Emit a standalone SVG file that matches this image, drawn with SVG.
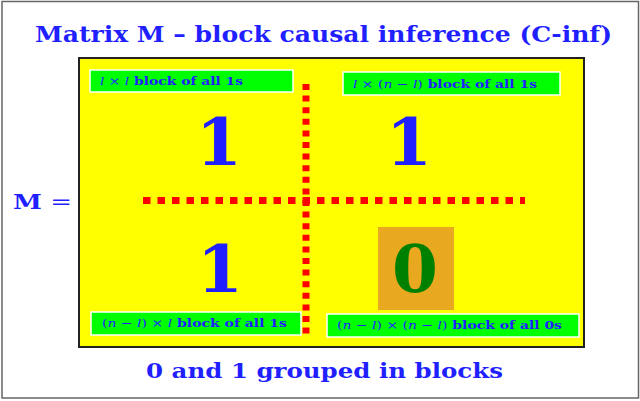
<svg xmlns="http://www.w3.org/2000/svg" width="640" height="401" viewBox="0 0 640 401">
<style>
.t{font-family:"DejaVu Serif","Liberation Serif",serif;font-weight:bold;fill:#1f1fff}
.lab{font-family:"DejaVu Serif","Liberation Serif",serif;font-weight:bold;font-size:11.5px;fill:#1f1fff}
.mi{font-style:italic;font-weight:normal}
.mo{font-weight:normal}
.box{fill:#00ff00;stroke:#ffffff;stroke-width:1.5}
.big{font-family:"DejaVu Serif","Liberation Serif",serif;font-weight:bold;font-size:66px;text-anchor:middle}
.dash{stroke:#ff0000;stroke-width:7;fill:none}
</style>
<rect x="0" y="0" width="640" height="401" fill="#ffffff"/>
<rect x="2" y="1.5" width="636.5" height="396.5" fill="none" stroke="#666666" stroke-width="1.5"/>
<text class="t" x="35" y="42" font-size="22" textLength="577" lengthAdjust="spacingAndGlyphs">Matrix M – block causal inference (C-inf)</text>
<g id="mlabel">
<text class="t" x="13" y="209" font-size="20" textLength="59" lengthAdjust="spacingAndGlyphs"><tspan>M</tspan><tspan class="mo"> =</tspan></text>
</g>
<g id="matrix">
<rect x="79" y="58" width="505" height="289" fill="#ffff00" stroke="#222222" stroke-width="2"/>
</g>
<g id="connectors">
<line class="dash" x1="143" y1="200.5" x2="525" y2="200.5" stroke-dasharray="7.5 7"/>
<line class="dash" x1="306" y1="84" x2="306" y2="336" stroke-dasharray="6 5.6"/>
</g>
<g id="block-tl">
<text class="big" x="219" y="165" fill="#1f1fff">1</text>
</g>
<g id="block-tr">
<text class="big" x="409" y="165" fill="#1f1fff">1</text>
</g>
<g id="block-bl">
<text class="big" x="220" y="292" fill="#1f1fff">1</text>
</g>
<g id="block-br">
<rect x="378" y="227" width="76" height="83" fill="#e8a820"/>
<text class="big" x="415" y="292" fill="#008000">0</text>
</g>
<g id="label-tl">
<rect class="box" x="90" y="70" width="203" height="22"/>
<text class="lab" x="100" y="85" textLength="143" lengthAdjust="spacingAndGlyphs"><tspan class="mi">l</tspan><tspan class="mo"> × </tspan><tspan class="mi">l</tspan> block of all 1s</text>
</g>
<g id="label-tr">
<rect class="box" x="343" y="72" width="217" height="23"/>
<text class="lab" x="353" y="88" textLength="184" lengthAdjust="spacingAndGlyphs"><tspan class="mi">l</tspan><tspan class="mo"> × (</tspan><tspan class="mi">n</tspan><tspan class="mo"> − </tspan><tspan class="mi">l</tspan><tspan class="mo">)</tspan> block of all 1s</text>
</g>
<g id="label-bl">
<rect class="box" x="91" y="312" width="210" height="23"/>
<text class="lab" x="102" y="327" textLength="185" lengthAdjust="spacingAndGlyphs"><tspan class="mo">(</tspan><tspan class="mi">n</tspan><tspan class="mo"> − </tspan><tspan class="mi">l</tspan><tspan class="mo">) × </tspan><tspan class="mi">l</tspan> block of all 1s</text>
</g>
<g id="label-br">
<rect class="box" x="327" y="314" width="252" height="23"/>
<text class="lab" x="337" y="329" textLength="225" lengthAdjust="spacingAndGlyphs"><tspan class="mo">(</tspan><tspan class="mi">n</tspan><tspan class="mo"> − </tspan><tspan class="mi">l</tspan><tspan class="mo">) × (</tspan><tspan class="mi">n</tspan><tspan class="mo"> − </tspan><tspan class="mi">l</tspan><tspan class="mo">)</tspan> block of all 0s</text>
</g>
<text class="t" x="146" y="378" font-size="20" textLength="357" lengthAdjust="spacingAndGlyphs">0 and 1 grouped in blocks</text>
</svg>
